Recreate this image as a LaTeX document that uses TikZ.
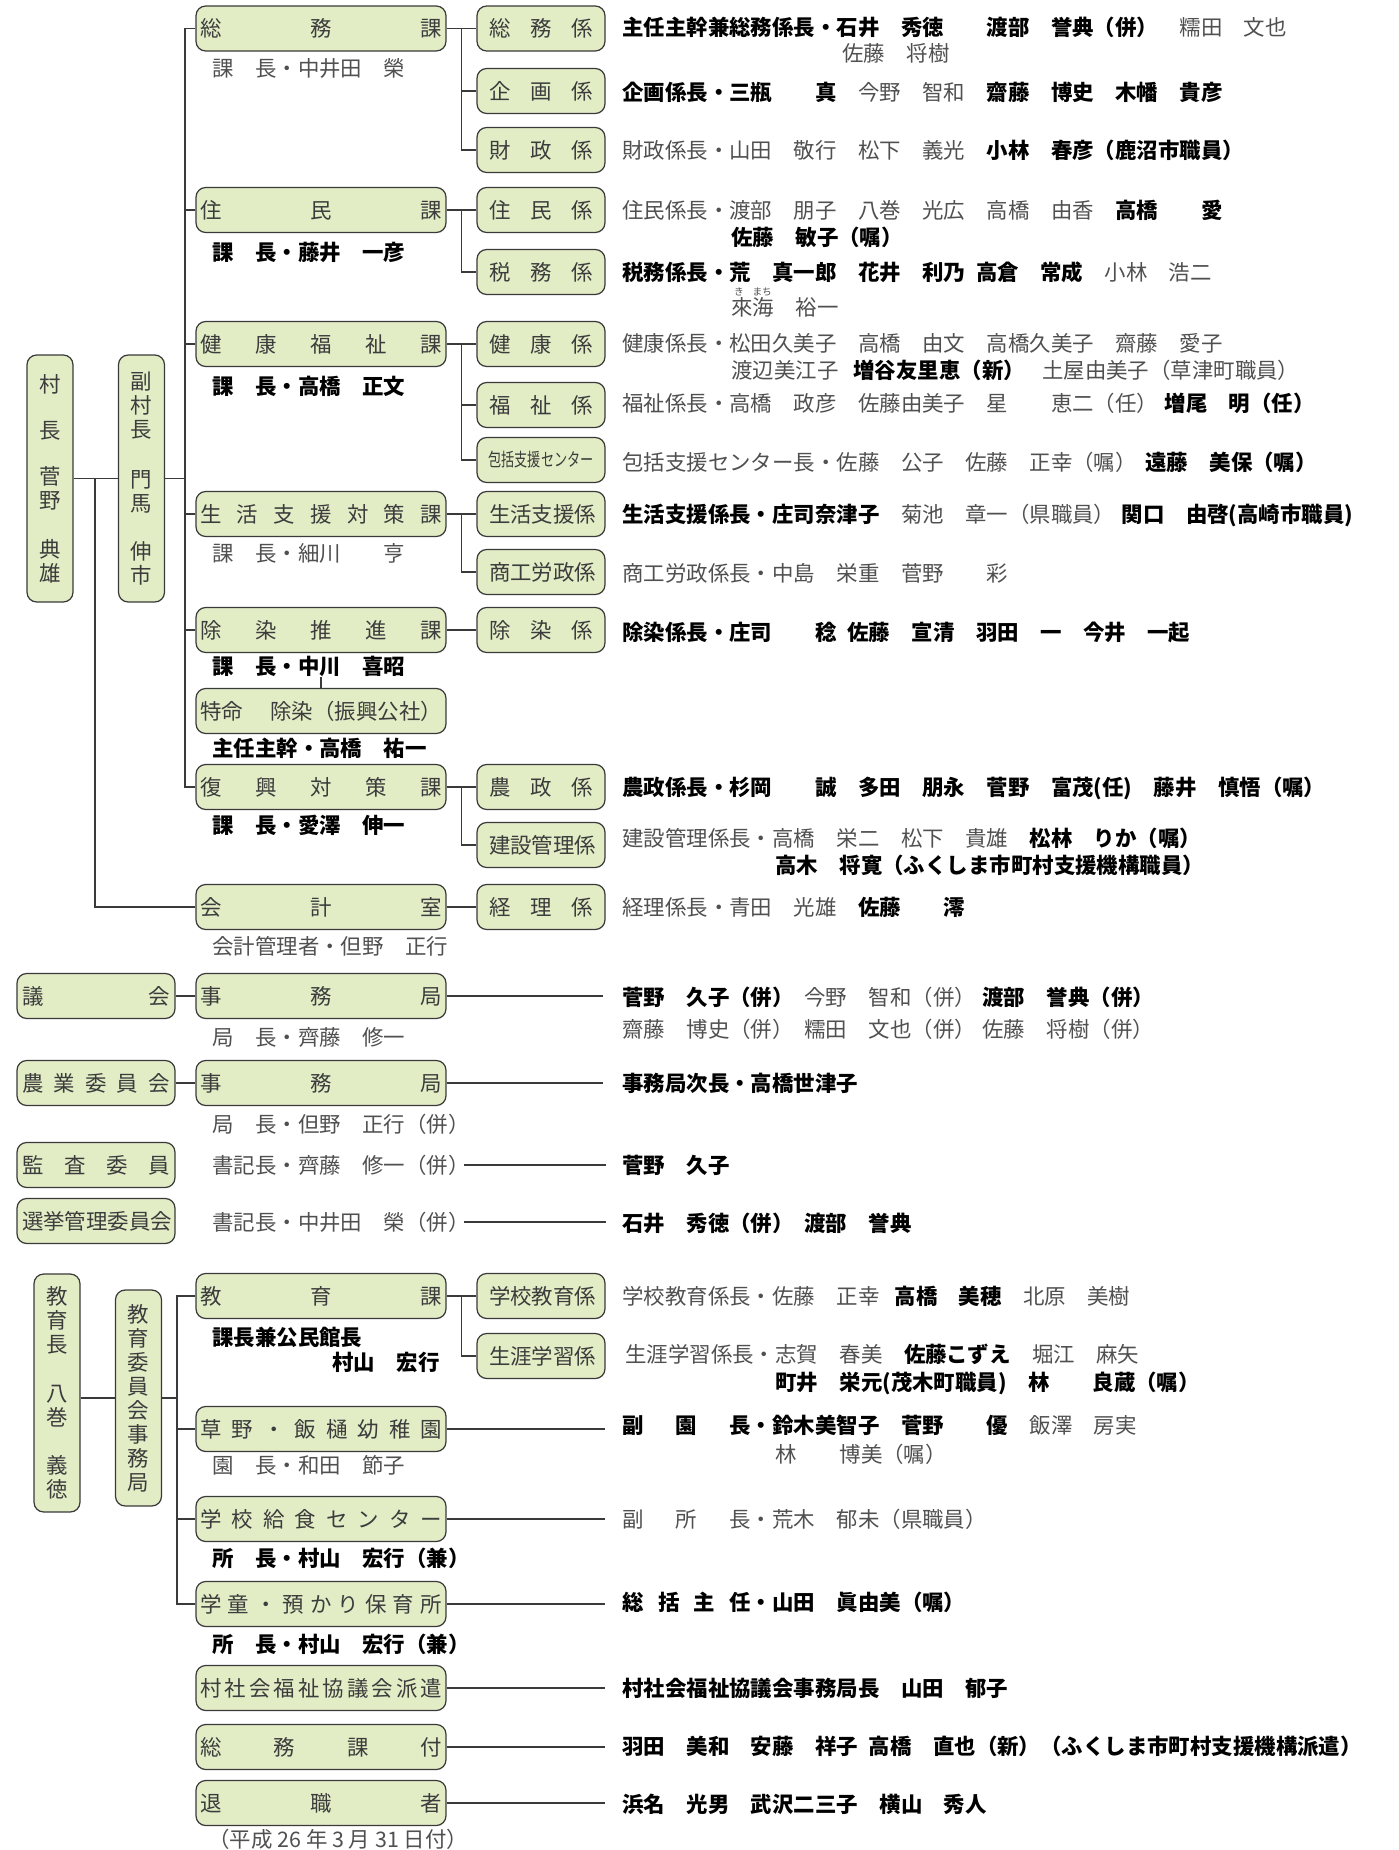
\documentclass[tikz,border=0pt]{standalone}
\usepackage{fontspec}
\setmainfont{Noto Sans CJK JP}
\usepackage{xcolor}
\usepackage{graphicx}
\usepackage{tikz}
\usetikzlibrary{positioning,calc}
\definecolor{boxgreen}{HTML}{E2EDC6}
\definecolor{boxline}{HTML}{3A3A3A}
\definecolor{boxtext}{HTML}{3C3C3C}
\definecolor{memgrey}{HTML}{505050}
\definecolor{linegrey}{HTML}{3A3A3A}
\newlength\kaw \setlength\kaw{4.84cm}
\newlength\kkw \setlength\kkw{2.08cm}
\newlength\giw \setlength\giw{2.96cm}
\newcommand\spreadtext[2]{\hbox to #1{#2}}
\newcommand\bk[1]{{\bfseries\color{black}#1}}
\tikzset{
  orgbox/.style={draw=boxline, fill=boxgreen, rounded corners=5.5pt, line width=0.7pt, inner sep=0pt, minimum height=0.9cm, text=boxtext},
  kabox/.style={orgbox, minimum width=5cm},
  kakaribox/.style={orgbox, minimum width=2.56cm},
  iinbox/.style={orgbox, minimum width=3.16cm},
  tatebox/.style={orgbox, minimum width=0.92cm, align=center},
  member/.style={anchor=west, inner sep=0pt, text=memgrey},
  ruby/.style={inner sep=0pt, text=memgrey, font=\fontsize{5.5pt}{6pt}\selectfont},
  link/.style={draw=linegrey, line width=0.7pt}
}

\begin{document}
\begin{tikzpicture}[x=0.02cm, y=-0.02cm, font=\fontsize{12.2pt}{13.66pt}\selectfont]
  \fill[white] (0,0) rectangle (1399,1850);
  \useasboundingbox (0,0) rectangle (1399,1850);

  \node[tatebox, minimum height=4.94cm] (soncho) at (50,478.5) {村\\[0.44cm]長\\[0.44cm]菅\\野\\[0.5cm]典\\雄};
  \node[tatebox, minimum height=4.94cm] (fukuson) at (141.5,478.5) {副\\村\\長\\[0.52cm]門\\馬\\[0.48cm]伸\\市};
  \coordinate (jtrunk) at (185,478.5);
  \coordinate (ktrunk) at (95,478.5);

  \node[kabox] (somuka) at (321,28.5) {\spreadtext{\kaw}{総\hfill 務\hfill 課}};
  \node[kabox] (jumin) at (321,210) {\spreadtext{\kaw}{住\hfill 民\hfill 課}};
  \node[kabox] (kenko) at (321,344) {\spreadtext{\kaw}{健\hfill 康\hfill 福\hfill 祉\hfill 課}};
  \node[kabox] (seikatsu) at (321,514) {\spreadtext{\kaw}{生\hfill 活\hfill 支\hfill 援\hfill 対\hfill 策\hfill 課}};
  \node[kabox] (josen) at (321,630) {\spreadtext{\kaw}{除\hfill 染\hfill 推\hfill 進\hfill 課}};
  \node[kabox] (tokumei) at (321,711) {\spreadtext{\kaw}{特命\hfill 除染（振興公社）}};
  \node[kabox] (fukko) at (321,787) {\spreadtext{\kaw}{復\hfill 興\hfill 対\hfill 策\hfill 課}};
  \node[kabox] (kaikei) at (321,907) {\spreadtext{\kaw}{会\hfill 計\hfill 室}};

  \node[kakaribox] (somukakari) at (541,28.5) {\spreadtext{\kkw}{総\hfill 務\hfill 係}};
  \node[kakaribox] (kikaku) at (541,91) {\spreadtext{\kkw}{企\hfill 画\hfill 係}};
  \node[kakaribox] (zaisei) at (541,150) {\spreadtext{\kkw}{財\hfill 政\hfill 係}};
  \node[kakaribox] (juminkakari) at (541,210) {\spreadtext{\kkw}{住\hfill 民\hfill 係}};
  \node[kakaribox] (zeimu) at (541,272) {\spreadtext{\kkw}{税\hfill 務\hfill 係}};
  \node[kakaribox] (kenkokakari) at (541,344) {\spreadtext{\kkw}{健\hfill 康\hfill 係}};
  \node[kakaribox] (fukushi) at (541,405) {\spreadtext{\kkw}{福\hfill 祉\hfill 係}};
  \node[kakaribox] (hokatsu) at (541,460) {{\fontsize{10.4pt}{12pt}\selectfont\scalebox{0.72}[1]{包括支援センター}}};
  \node[kakaribox] (seikatsukakari) at (541,514) {\spreadtext{\kkw}{生活支援係}};
  \node[kakaribox] (shoko) at (541,572) {\spreadtext{\kkw}{商工労政係}};
  \node[kakaribox] (josenkakari) at (541,630) {\spreadtext{\kkw}{除\hfill 染\hfill 係}};
  \node[kakaribox] (nosei) at (541,787) {\spreadtext{\kkw}{農\hfill 政\hfill 係}};
  \node[kakaribox] (kensetsu) at (541,845) {\spreadtext{\kkw}{建設管理係}};
  \node[kakaribox] (keiri) at (541,907) {\spreadtext{\kkw}{経\hfill 理\hfill 係}};

  \draw[link] (soncho) -- (fukuson);
  \draw[link] (fukuson) -- (jtrunk);
  \draw[link] (jtrunk) |- (somuka.west);
  \draw[link] (jtrunk) |- (jumin.west);
  \draw[link] (jtrunk) |- (kenko.west);
  \draw[link] (jtrunk) |- (seikatsu.west);
  \draw[link] (jtrunk) |- (josen.west);
  \draw[link] (jtrunk) |- (fukko.west);
  \draw[link] (ktrunk) |- (kaikei.west);

  \draw[link] (somuka) -- (somukakari);
  \draw[link] (somuka.east) ++(15,0) |- (kikaku.west);
  \draw[link] (somuka.east) ++(15,0) |- (zaisei.west);
  \draw[link] (jumin) -- (juminkakari);
  \draw[link] (jumin.east) ++(15,0) |- (zeimu.west);
  \draw[link] (kenko) -- (kenkokakari);
  \draw[link] (kenko.east) ++(15,0) |- (fukushi.west);
  \draw[link] (kenko.east) ++(15,0) |- (hokatsu.west);
  \draw[link] (seikatsu) -- (seikatsukakari);
  \draw[link] (seikatsu.east) ++(15,0) |- (shoko.west);
  \draw[link] (josen) -- (josenkakari);
  \draw[link] (tokumei.north) -- ++(0,-11);
  \draw[link] (fukko) -- (nosei);
  \draw[link] (fukko.east) ++(15,0) |- (kensetsu.west);
  \draw[link] (kaikei) -- (keiri);

  \node[member] (h1) at (212,68) {課　長・中井田　榮};
  \node[member] (h2) at (212,252) {\bk{課　長・藤井　一彦}};
  \node[member] (h3) at (212,386) {\bk{課　長・高橋　正文}};
  \node[member] (h4) at (212,553) {課　長・細川　　亨};
  \node[member] (h5) at (212,666) {\bk{課　長・中川　喜昭}};
  \node[member] (h6) at (212,748) {\bk{主任主幹・高橋　祐一}};
  \node[member] (h7) at (212,825) {\bk{課　長・愛澤　伸一}};
  \node[member] (h8) at (212,946) {会計管理者・但野　正行};

  \node[member] (m1) at (622,27) {\bk{主任主幹兼総務係長・石井　秀徳}　　\bk{渡部　誉典（併）}　糯田　文也};
  \node[member] (m1b) at (842,53) {佐藤　将樹};
  \node[member] (m2) at (622,92) {\bk{企画係長・三瓶　　真}　今野　智和　\bk{齋藤　博史　木幡　貴彦}};
  \node[member] (m3) at (622,150) {財政係長・山田　敬行　松下　義光　\bk{小林　春彦（鹿沼市職員）}};
  \node[member] (m4) at (622,210) {住民係長・渡部　朋子　八巻　光広　高橋　由香　\bk{高橋　　愛}};
  \node[member] (m4b) at (731,237) {\bk{佐藤　敏子（嘱）}};
  \node[member] (m5) at (622,272) {\bk{税務係長・荒　真一郎　花井　利乃\hspace{0.5em}高倉　常成}　小林　浩二};
  \node[ruby] (m5r) at (753,292) {き\hspace{0.9em}まち};
  \node[member] (m5b) at (731,307) {來海　裕一};
  \node[member] (m6) at (622,343) {健康係長・松田久美子　高橋　由文　高橋久美子　齋藤　愛子};
  \node[member] (m6b) at (731,370) {渡辺美江子\hspace{0.7em}\bk{増谷友里恵（新）}\hspace{0.8em}土屋由美子（草津町職員）};
  \node[member] (m7) at (622,403) {福祉係長・高橋　政彦　佐藤由美子　星　　恵二（任）\hspace{0.3em}\bk{増尾　明（任）}};
  \node[member] (m8) at (622,462) {包括支援センター長・佐藤　公子　佐藤　正幸（嘱）\hspace{0.4em}\bk{遠藤　美保（嘱）}};
  \node[member] (m9) at (622,515) {\bk{生活支援係長・庄司奈津子}　菊池　章一（県職員）\hspace{0.3em}\bk{関口　由啓(高崎市職員)}};
  \node[member] (m10) at (622,573) {商工労政係長・中島　栄重　菅野　　彩};
  \node[member] (m11) at (622,632) {\bk{除染係長・庄司　　稔\hspace{0.5em}佐藤　宣清　羽田　一　今井　一起}};
  \node[member] (m12) at (622,788) {\bk{農政係長・杉岡　　誠　多田　朋永　菅野　富茂(任)　藤井　慎悟（嘱）}};
  \node[member] (m13) at (622,838) {建設管理係長・高橋　栄二　松下　貴雄　\bk{松林　りか（嘱）}};
  \node[member] (m13b) at (775,865) {\bk{高木　将寛（ふくしま市町村支援機構職員）}};
  \node[member] (m14) at (622,907) {経理係長・青田　光雄　\bk{佐藤　　澪}};

  \node[iinbox] (gikai) at (96,996) {\spreadtext{\giw}{議\hfill 会}};
  \node[kabox] (gjimu) at (321,996) {\spreadtext{\kaw}{事\hfill 務\hfill 局}};
  \node[iinbox] (noui) at (96,1083) {\spreadtext{\giw}{農\hfill 業\hfill 委\hfill 員\hfill 会}};
  \node[kabox] (njimu) at (321,1083) {\spreadtext{\kaw}{事\hfill 務\hfill 局}};
  \node[iinbox] (kansa) at (96,1165) {\spreadtext{\giw}{監\hfill 査\hfill 委\hfill 員}};
  \node[iinbox] (senkyo) at (96,1221) {\spreadtext{\giw}{選挙管理委員会}};
  \draw[link] (gikai) -- (gjimu);
  \draw[link] (gjimu.east) -- ++(156,0);
  \draw[link] (noui) -- (njimu);
  \draw[link] (njimu.east) -- ++(156,0);

  \node[member] (h9) at (212,1037) {局　長・齊藤　修一};
  \node[member] (h10) at (212,1124) {局　長・但野　正行（併）};
  \node[member] (h11) at (212,1165) {書記長・齊藤　修一（併）};
  \node[member] (h12) at (212,1222) {書記長・中井田　榮（併）};
  \draw[link] (h11.east) ++(-6,0) -- ++(142,0);
  \draw[link] (h12.east) ++(-6,0) -- ++(142,0);

  \node[member] (m15) at (622,997) {\bk{菅野　久子（併）}\hspace{0.5em}今野　智和（併）\hspace{0.3em}\bk{渡部　誉典（併）}};
  \node[member] (m15b) at (622,1029) {齋藤　博史（併）\hspace{0.5em}糯田　文也（併）\hspace{0.3em}佐藤　将樹（併）};
  \node[member] (m16) at (622,1083) {\bk{事務局次長・高橋世津子}};
  \node[member] (m17) at (622,1165) {\bk{菅野　久子}};
  \node[member] (m18) at (622,1223) {\bk{石井　秀徳（併）\hspace{0.5em}渡部　誉典}};

  \node[tatebox, minimum height=4.76cm] (kyoikucho) at (57,1393) {教\\育\\長\\[0.5cm]八\\巻\\[0.48cm]義\\徳};
  \node[tatebox, minimum height=4.32cm] (kyoiin) at (138.5,1398) {教\\育\\委\\員\\会\\事\\務\\局};
  \coordinate (etrunk) at (177,1398);

  \node[kabox] (kyoikuka) at (321,1296) {\spreadtext{\kaw}{教\hfill 育\hfill 課}};
  \node[kakaribox] (gakko) at (541,1296) {\spreadtext{\kkw}{学校教育係}};
  \node[kakaribox] (shogai) at (541,1356) {\spreadtext{\kkw}{生涯学習係}};
  \node[kabox] (kusano) at (321,1429) {\spreadtext{\kaw}{草\hfill 野\hfill ・\hfill 飯\hfill 樋\hfill 幼\hfill 稚\hfill 園}};
  \node[kabox] (kyushoku) at (321,1519) {\spreadtext{\kaw}{学\hfill 校\hfill 給\hfill 食\hfill セ\hfill ン\hfill タ\hfill ー}};
  \node[kabox] (gakudo) at (321,1604) {\spreadtext{\kaw}{学\hfill 童\hfill ・\hfill 預\hfill か\hfill り\hfill 保\hfill 育\hfill 所}};
  \node[kabox] (shakyo) at (321,1688) {\spreadtext{\kaw}{村\hfill 社\hfill 会\hfill 福\hfill 祉\hfill 協\hfill 議\hfill 会\hfill 派\hfill 遣}};
  \node[kabox] (fuzoku) at (321,1747) {\spreadtext{\kaw}{総\hfill 務\hfill 課\hfill 付}};
  \node[kabox] (taishoku) at (321,1803) {\spreadtext{\kaw}{退\hfill 職\hfill 者}};

  \draw[link] (kyoikucho.east |- kyoiin.west) -- (kyoiin.west);
  \draw[link] (kyoiin) -- (etrunk);
  \draw[link] (etrunk) |- (kyoikuka.west);
  \draw[link] (etrunk) |- (kusano.west);
  \draw[link] (etrunk) |- (kyushoku.west);
  \draw[link] (etrunk) |- (gakudo.west);
  \draw[link] (kyoikuka) -- (gakko);
  \draw[link] (kyoikuka.east) ++(15,0) |- (shogai.west);
  \draw[link] (kusano.east) -- ++(158,0);
  \draw[link] (kyushoku.east) -- ++(158,0);
  \draw[link] (gakudo.east) -- ++(158,0);
  \draw[link] (shakyo.east) -- ++(158,0);
  \draw[link] (fuzoku.east) -- ++(158,0);
  \draw[link] (taishoku.east) -- ++(158,0);

  \node[member] (h13) at (212,1337) {\bk{課長兼公民館長}};
  \node[member] (h13b) at (332,1362) {\bk{村山　宏行}};
  \node[member] (h14) at (212,1465) {園　長・和田　節子};
  \node[member] (h15) at (212,1558) {\bk{所　長・村山　宏行（兼）}};
  \node[member] (h16) at (212,1644) {\bk{所　長・村山　宏行（兼）}};
  \node[member] (h17) at (208,1839) {（平成 26 年 3 月 31 日付）};

  \node[member] (m19) at (622,1296) {学校教育係長・佐藤　正幸\hspace{0.7em}\bk{高橋　美穂}　北原　美樹};
  \node[member] (m20) at (625,1354) {生涯学習係長・志賀　春美　\bk{佐藤こずえ}　堀江　麻矢};
  \node[member] (m20b) at (775,1383) {\bk{町井　栄元(茂木町職員)　林　　良蔵（嘱）}};
  \node[member] (m21) at (622,1425) {\bk{\spreadtext{6em}{副\hfill 園\hfill 長}・鈴木美智子　菅野　　優}　飯澤　房実};
  \node[member] (m21b) at (775,1454) {林　　博美（嘱）};
  \node[member] (m22) at (622,1519) {\spreadtext{6em}{副\hfill 所\hfill 長}・荒木　郁未（県職員）};
  \node[member] (m23) at (622,1602) {\bk{\spreadtext{6em}{総\hfill 括\hfill 主\hfill 任}・山田　眞由美（嘱）}};
  \node[member] (m24) at (622,1688) {\bk{村社会福祉協議会事務局長　山田　郁子}};
  \node[member] (m25) at (622,1746) {\bk{羽田　美和　安藤　祥子\hspace{0.5em}高橋　直也（新）（ふくしま市町村支援機構派遣）}};
  \node[member] (m26) at (622,1804) {\bk{浜名　光男　武沢二三子　横山　秀人}};
\end{tikzpicture}
\end{document}
